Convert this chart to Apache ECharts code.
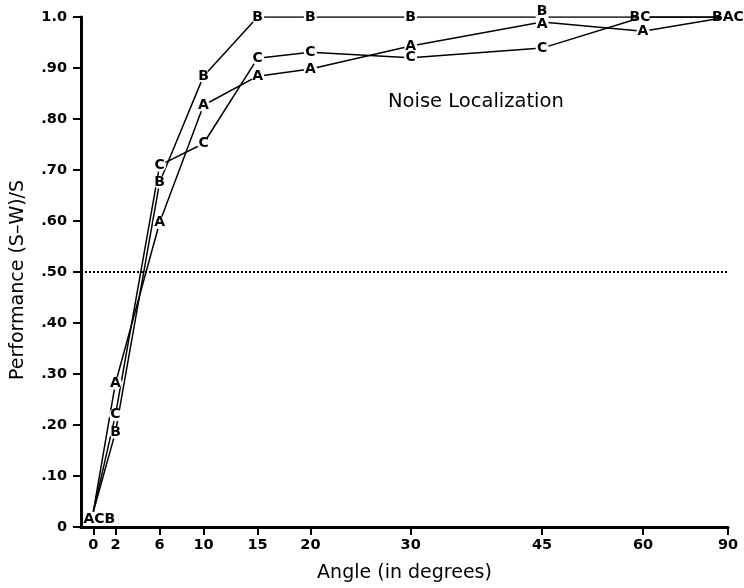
<!DOCTYPE html>
<html>
<head>
<meta charset="utf-8">
<script src="https://cdn.jsdelivr.net/npm/echarts@6/dist/echarts.min.js"></script>
<style>
html,body{margin:0;padding:0;background:#fff;}
#c{width:744px;height:588px;}
</style>
</head>
<body>
<div id="c"></div>
<script>
// Angles (degrees); x axis is drawn on a sine scale
const angles = [0, 2, 6, 10, 15, 20, 30, 45, 60, 90];
const tickAngles = [0, 2, 6, 10, 15, 20, 30, 45, 60, 90];
const yTickLabels = ['0', '.10', '.20', '.30', '.40', '.50', '.60', '.70', '.80', '.90', '1.0'];

const valuesA = [0.03, 0.282, 0.597, 0.827, 0.884, 0.898, 0.943, 0.99, 0.972, 1.0];
const valuesB = [0.03, 0.186, 0.676, 0.884, 1.0, 1.0, 1.0, 1.0, 1.0, 1.0];
const valuesC = [0.03, 0.22, 0.709, 0.752, 0.919, 0.931, 0.92, 0.939, 1.0, 1.0];

// point letters (combined where the points coincide)
const lettersA = ['ACB', 'A', 'A', 'A', 'A', 'A', 'A', 'A', 'A', ''];
const lettersB = ['', 'B', 'B', 'B', 'B', 'B', 'B', 'B', 'BC', 'BAC'];
const lettersC = ['', 'C', 'C', 'C', 'C', 'C', 'C', 'C', '', ''];

const refLine = 0.5;

const toX = a => Math.sin(a * Math.PI / 180);
const tickX = tickAngles.map(toX);

// label offset / symbol tweaks (style only)
const offsets = {
  A: {0: [6, 8], 7: [0, 2]},
  B: {7: [0, -6], 8: [-3, 0]},
  C: {}
};
const FONT = 'DejaVu Sans, Liberation Sans, Arial, sans-serif';

function build(key, vals, letters) {
  return angles.map((a, i) => {
    const txt = letters[i];
    return {
      value: [toX(a), vals[i]],
      symbolSize: (txt && i !== 0) ? 13 : 0,
      label: {
        show: !!txt,
        formatter: txt,
        offset: offsets[key][i] || [0, 0]
      }
    };
  });
}

const labelStyle = {
  show: true,
  position: 'inside',
  color: '#000',
  fontFamily: FONT,
  fontWeight: 'bold',
  fontSize: 14
};

function series(name, key, vals, letters, extra) {
  return Object.assign({
    name: name,
    type: 'line',
    data: build(key, vals, letters),
    symbol: 'circle',
    symbolSize: 13,
    showSymbol: true,
    itemStyle: {color: '#fff', borderWidth: 0},
    lineStyle: {color: '#000', width: 1.5},
    label: labelStyle,
    emphasis: {disabled: true},
    animation: false,
    z: 3
  }, extra || {});
}

const chart = echarts.init(document.getElementById('c'));
chart.setOption({
  animation: false,
  backgroundColor: '#fff',
  grid: {left: 81, right: 16, top: 17, bottom: 61, containLabel: false},
  xAxis: {
    type: 'value',
    min: -0.0194,
    max: 1,
    name: 'Angle (in degrees)',
    nameLocation: 'middle',
    nameGap: 37,
    nameTextStyle: {fontFamily: FONT, fontSize: 19, color: '#000'},
    axisLine: {show: true, onZero: false, lineStyle: {color: '#000', width: 3}},
    axisTick: {show: true, customValues: tickX, length: 8, lineStyle: {color: '#000', width: 2}},
    axisLabel: {
      customValues: tickX,
      margin: 11,
      color: '#000',
      fontFamily: FONT,
      fontWeight: 'bold',
      fontSize: 14.5,
      formatter: v => {
        let best = 0, d = 1e9;
        tickX.forEach((t, i) => { if (Math.abs(t - v) < d) { d = Math.abs(t - v); best = i; } });
        return String(tickAngles[best]);
      }
    },
    splitLine: {show: false}
  },
  yAxis: {
    type: 'value',
    min: 0,
    max: 1,
    interval: 0.1,
    name: 'Performance (S\u2013W)/S',
    nameLocation: 'middle',
    nameGap: 53,
    nameTextStyle: {fontFamily: FONT, fontSize: 19, color: '#000', padding: [0, 16, 0, 0]},
    axisLine: {show: true, onZero: false, lineStyle: {color: '#000', width: 3}},
    axisTick: {show: true, length: 8, lineStyle: {color: '#000', width: 2}},
    axisLabel: {
      margin: 14,
      color: '#000',
      fontFamily: FONT,
      fontWeight: 'bold',
      fontSize: 14.5,
      formatter: v => yTickLabels[Math.round(v * 10)]
    },
    splitLine: {show: false}
  },
  series: [
    series('A', 'A', valuesA, lettersA, {
      markLine: {
        silent: true,
        symbol: 'none',
        label: {show: false},
        lineStyle: {color: '#000', type: 'dotted', width: 2},
        data: [{yAxis: refLine}]
      }
    }),
    series('B', 'B', valuesB, lettersB),
    series('C', 'C', valuesC, lettersC)
  ],
  graphic: [{
    type: 'text',
    left: 388,
    top: 92,
    style: {
      text: 'Noise Localization',
      fill: '#000',
      font: '19.5px DejaVu Sans, Liberation Sans, Arial, sans-serif'
    }
  }]
});
</script>
</body>
</html>
